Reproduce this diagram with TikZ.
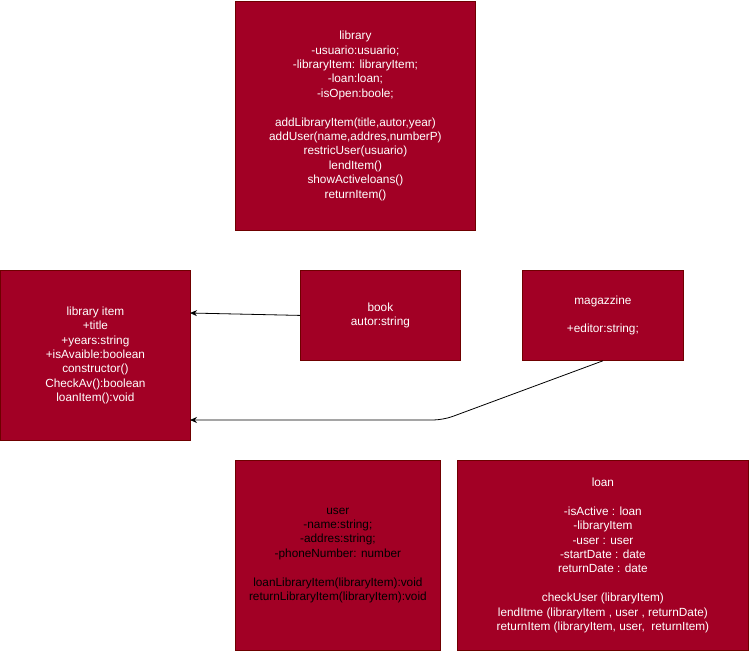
\documentclass[tikz,border=0pt]{standalone}
\usepackage{fontspec}
\setmainfont{Liberation Sans}
\usetikzlibrary{arrows.meta}
\definecolor{boxfill}{HTML}{A20025}
\definecolor{boxline}{HTML}{6F0000}
\begin{document}
\begin{tikzpicture}[x=1pt,y=-1pt,
  umlbox/.style={draw=boxline,fill=boxfill,line width=0.8pt,anchor=north west,inner sep=0pt,
    align=center,text=white,font=\fontsize{11.8}{14.4}\selectfont},
  conn/.style={draw=black,line width=0.8pt,-{Stealth[length=7pt,width=6pt]}}]
\useasboundingbox (0,0) rectangle (749,651);
\fill[white] (0,0) rectangle (749,651);
\node[umlbox,minimum width=240pt,minimum height=229pt] (library) at (235,1)
 {library\\-usuario:usuario;\\-libraryItem: libraryItem;\\-loan:loan;\\-isOpen:boole;\\[14.4pt]
  addLibraryItem(title,autor,year)\\addUser(name,addres,numberP)\\restricUser(usuario)\\lendItem()\\showActiveloans()\\returnItem()};
\node[umlbox,minimum width=190pt,minimum height=170pt] (libitem) at (0,270)
 {library item\\+title\\+years:string\\+isAvaible:boolean\\constructor()\\CheckAv():boolean\\loanItem():void};
\node[umlbox,minimum width=160pt,minimum height=90pt] (book) at (300,270)
 {book\\autor:string};
\node[umlbox,minimum width=161pt,minimum height=90pt] (mag) at (522,270)
 {magazzine\\[14.4pt]+editor:string;};
\node[umlbox,text=black,minimum width=205pt,minimum height=190pt] (user) at (235,460)
 {user\\-name:string;\\-addres:string;\\-phoneNumber: number\\[14.4pt]
  loanLibraryItem(libraryItem):void\\returnLibraryItem(libraryItem):void};
\node[umlbox,minimum width=291pt,minimum height=190pt] (loan) at (457,460)
 {loan\\[14.4pt]-isActive : loan\\-libraryItem\\-user : user\\-startDate : date\\returnDate : date\\[14.4pt]
  checkUser (libraryItem)\\lendItme (libraryItem , user , returnDate)\\returnItem (libraryItem, user,~ returnItem)};
\coordinate (in1) at (190,313);
\coordinate (in2) at (190,420);
\coordinate (bend) at (443,420);
\draw[conn] (book.west) -- (in1);
\draw[conn,rounded corners=10pt] (mag.south) -- (bend) -- (in2);
\end{tikzpicture}
\end{document}
